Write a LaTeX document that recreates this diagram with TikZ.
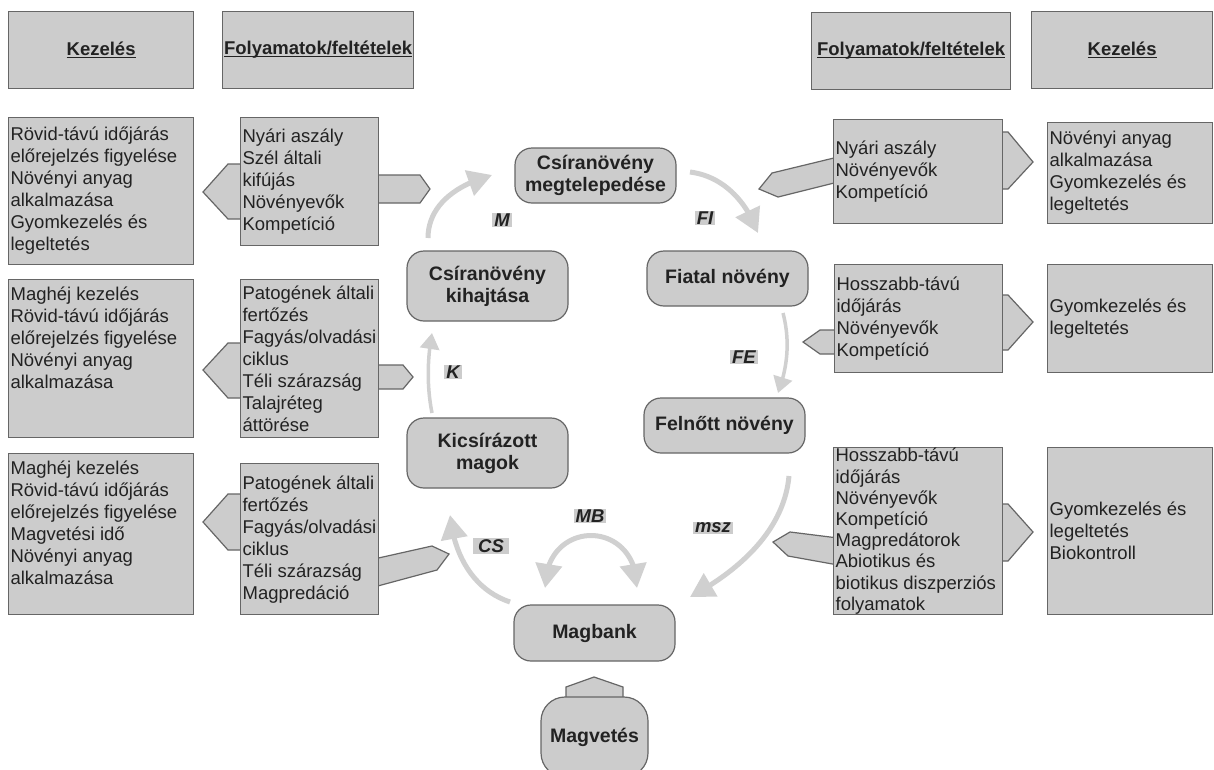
\documentclass[tikz,border=0pt]{standalone}
\usepackage{fontspec}
\setmainfont{Liberation Sans}
\usetikzlibrary{arrows.meta,bending}
\definecolor{boxfill}{HTML}{CCCCCC}
\definecolor{boxline}{HTML}{666666}
\definecolor{arrowc}{HTML}{D0D0D0}
\definecolor{txt}{HTML}{222222}
\newcommand\tb[7]{\node[tbox, minimum width=#4pt, minimum height=#5pt] (#1) at (#2,#3) {\parbox[c][#5pt][#6]{\dimexpr#4pt-4pt\relax}{\raggedright #7}};}
\newcommand\myul[1]{\setbox0=\hbox{#1}\rlap{\rule[-2.5pt]{\wd0}{1.1pt}}\box0}
\begin{document}
\begin{tikzpicture}[x=1pt,y=-1pt,
 tbox/.style={draw=boxline, fill=boxfill, line width=1.2pt, rectangle, inner xsep=2pt, inner ysep=0pt, anchor=north west, text=txt, font=\fontsize{18.5}{22}\selectfont},
 hbox/.style={draw=boxline, fill=boxfill, line width=1.2pt, rectangle, anchor=north west, text=txt, font=\bfseries\fontsize{18.5}{22}\selectfont, inner sep=0pt},
 stage/.style={draw=boxline, fill=boxfill, line width=1.2pt, rounded corners=17pt, align=center, text=txt, font=\bfseries\fontsize{19.5}{22}\selectfont, minimum width=161pt, inner sep=0pt},
 ptr/.style={draw=boxline, fill=boxfill, line width=1.2pt, line join=miter},
 flow/.style={draw=arrowc, line width=5pt, -{Triangle[width=26pt,length=24pt]}},
 thinflow/.style={draw=arrowc, line width=3.5pt, -{Triangle[width=19pt,length=16pt]}},
 lab/.style={fill=boxfill, inner xsep=2pt, inner ysep=1pt, text=txt, font=\bfseries\itshape\fontsize{18.5}{22}\selectfont}]
\clip (0,0) rectangle (1214,769);
\fill[white] (0,0) rectangle (1214,769);

% headers
\node[hbox, minimum width=185pt, minimum height=77pt] (hLK) at (8,11) {\myul{Kezelés}};
\node[hbox, minimum width=191pt, minimum height=77pt] (hLF) at (222,11) {\myul{Folyamatok/feltételek}};
\node[hbox, minimum width=199pt, minimum height=77pt] (hRF) at (811,12) {\myul{Folyamatok/feltételek}};
\node[hbox, minimum width=181pt, minimum height=77pt] (hRK) at (1031,11) {\myul{Kezelés}};

% pointers (left side)
\filldraw[ptr] (244,164) -- (228,164) -- (203,192) -- (228,219) -- (244,219) -- cycle;
\filldraw[ptr] (374,175) -- (420,175) -- (430,189) -- (420,203) -- (374,203) -- cycle;
\filldraw[ptr] (244,343) -- (228,343) -- (203,370) -- (228,398) -- (244,398) -- cycle;
\filldraw[ptr] (374,365) -- (403,365) -- (413,377) -- (403,389) -- (374,389) -- cycle;
\filldraw[ptr] (244,494) -- (228,494) -- (203,522) -- (228,550) -- (244,550) -- cycle;
\filldraw[ptr] (374,559) -- (432,546) -- (449,554) -- (437,570) -- (374,587) -- cycle;
% pointers (right side)
\filldraw[ptr] (838,157) -- (772,173) -- (759,189) -- (778,197) -- (838,182) -- cycle;
\filldraw[ptr] (998,132) -- (1008,132) -- (1033,162) -- (1008,189) -- (998,189) -- cycle;
\filldraw[ptr] (838,330) -- (820,330) -- (803,342) -- (820,354) -- (838,354) -- cycle;
\filldraw[ptr] (998,295) -- (1008,295) -- (1033,322) -- (1008,350) -- (998,350) -- cycle;
\filldraw[ptr] (838,538) -- (790,532) -- (773,542) -- (788,556) -- (838,565) -- cycle;
\filldraw[ptr] (998,504) -- (1008,504) -- (1033,532) -- (1008,561) -- (998,561) -- cycle;
% Magvetés pointer
\filldraw[ptr] (566,705) -- (566,687) -- (594,677) -- (623,687) -- (623,705) -- cycle;

% left text boxes
\tb{K1}{8}{117}{185}{147}{c}{Rövid-távú időjárás\\ előrejelzés figyelése\\ Növényi anyag\\ alkalmazása\\ Gyomkezelés és\\ legeltetés}
\tb{P1}{240}{117}{138}{128}{c}{Nyári aszály\\ Szél általi\\ kifújás\\ Növényevők\\ Kompetíció}
\tb{K2}{8}{279}{185}{158}{t}{\vspace*{7pt}Maghéj kezelés\\ Rövid-távú időjárás\\ előrejelzés figyelése\\ Növényi anyag\\ alkalmazása}
\tb{P2}{240}{279}{138}{158}{c}{Patogének általi\\ fertőzés\\ Fagyás/olvadási\\ ciklus\\ Téli szárazság\\ Talajréteg\\ áttörése}
\tb{K3}{8}{453}{185}{161}{t}{\vspace*{7pt}Maghéj kezelés\\ Rövid-távú időjárás\\ előrejelzés figyelése\\ Magvetési idő\\ Növényi anyag\\ alkalmazása}
\tb{P3}{240}{463}{138}{151}{c}{Patogének általi\\ fertőzés\\ Fagyás/olvadási\\ ciklus\\ Téli szárazság\\ Magpredáció}

% right text boxes
\tb{Q1}{833}{119}{169}{104}{c}{Nyári aszály\\ Növényevők\\ Kompetíció}
\tb{R1}{1047}{122}{165}{101}{c}{Növényi anyag\\ alkalmazása\\ Gyomkezelés és\\ legeltetés}
\tb{Q2}{834}{264}{168}{108}{c}{Hosszabb-távú\\ időjárás\\ Növényevők\\ Kompetíció}
\tb{R2}{1047}{264}{165}{108}{c}{Gyomkezelés és\\ legeltetés}
\tb{Q3}{833}{447}{169}{167}{c}{\fontsize{18.5}{21.2}\selectfont Hosszabb-távú\\ időjárás\\ Növényevők\\ Kompetíció\\ Magpredátorok\\ Abiotikus és\\ biotikus diszperziós\\ folyamatok}
\tb{R3}{1047}{447}{165}{167}{c}{Gyomkezelés és\\ legeltetés\\ Biokontroll}

% stages
\node[stage, minimum height=55pt] (megt) at (595.5,175.5) {Csíranövény\\megtelepedése};
\node[stage, minimum height=70pt] (kihaj) at (487.5,286) {Csíranövény\\kihajtása};
\node[stage, minimum height=55pt] (fiatal) at (727.5,278.5) {Fiatal növény};
\node[stage, minimum height=70pt] (kicsir) at (487.5,453) {Kicsírázott\\magok};
\node[stage, minimum height=55pt] (felnott) at (724.5,425.5) {Felnőtt növény};
\node[stage, minimum height=56pt] (magbank) at (594.5,633) {Magbank};
\node[stage, minimum height=80pt, minimum width=107pt, rounded corners=24pt] (magvetes) at (594.5,737) {Magvetés};

% flow arrows
\coordinate (mA) at (428,238); \coordinate (mB) at (492,175);
\draw[flow] (mA) .. controls (428,208) and (452,186) .. (mB);
\coordinate (fiA) at (690,172); \coordinate (fiB) at (758,233);
\draw[flow] (fiA) .. controls (722,176) and (746,200) .. (fiB);
\coordinate (kA) at (432,413); \coordinate (kB) at (432,333);
\draw[thinflow] (kA) .. controls (427,388) and (427,360) .. (kB);
\coordinate (feA) at (783,313); \coordinate (feB) at (778,393);
\draw[thinflow] (feA) .. controls (790,340) and (788,366) .. (feB);
\coordinate (mszA) at (789,476); \coordinate (mszB) at (690,597);
\draw[flow] (mszA) .. controls (784,530) and (740,570) .. (mszB);
\coordinate (csA) at (510,602); \coordinate (csB) at (450,515);
\draw[flow] (csA) .. controls (474,590) and (454,556) .. (csB);
\coordinate (mbL) at (545,588); \coordinate (mbR) at (637,588);
\draw[flow, {Triangle[width=26pt,length=24pt]}-{Triangle[width=26pt,length=24pt]}] (mbL) .. controls (545,518) and (637,518) .. (mbR);

% labels
\node[lab] (lM) at (502,220) {M};
\node[lab] (lFI) at (705,218) {FI};
\node[lab] (lK) at (453,372) {K};
\node[lab] (lFE) at (744,357) {FE};
\node[lab] (lMB) at (590,516) {MB};
\node[lab, inner xsep=5pt] (lCS) at (491,546) {CS};
\node[lab] (lmsz) at (713,528) {msz};
\end{tikzpicture}
\end{document}
